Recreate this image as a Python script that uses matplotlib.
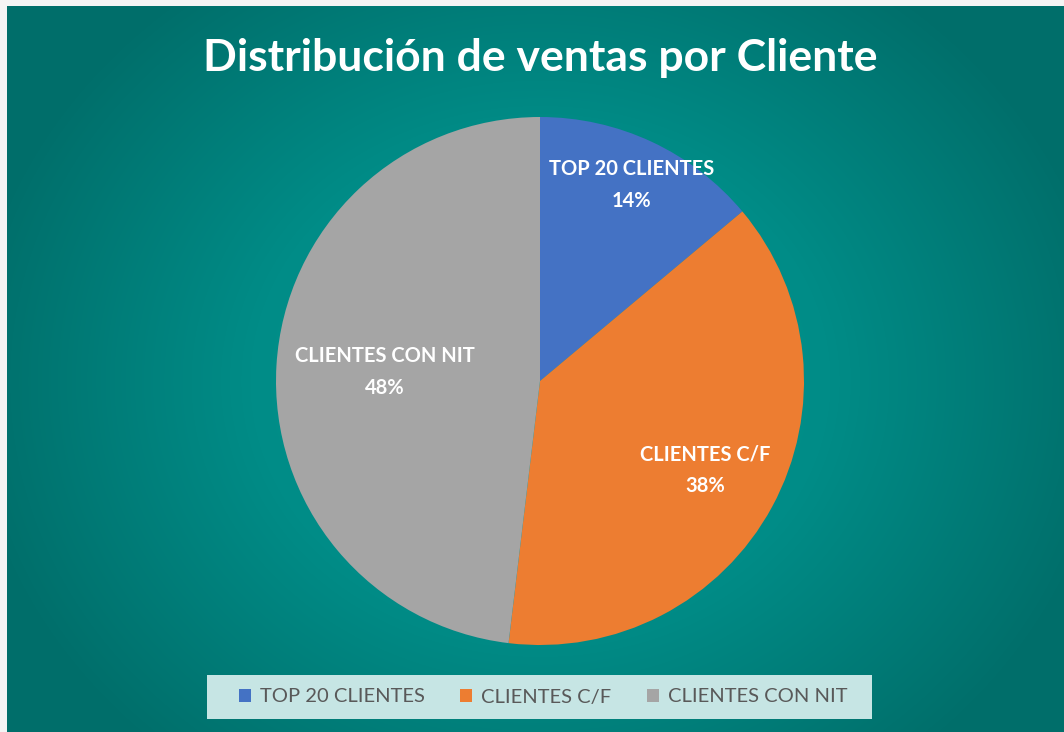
import matplotlib.pyplot as plt
import numpy as np
from matplotlib.colors import LinearSegmentedColormap
from matplotlib.patches import Patch, Rectangle

# data
categories = ["TOP 20 CLIENTES", "CLIENTES C/F", "CLIENTES CON NIT"]
shares = [13.9, 38.0, 48.1]
colors = ["#4472C4", "#ED7D31", "#A5A5A5"]
title = "Distribución de ventas por Cliente"

plt.rcParams['font.family'] = ['Lato', 'DejaVu Sans']

W, H = 1064, 732
fig = plt.figure(figsize=(W / 100, H / 100), dpi=100)
fig.patch.set_facecolor("#F4F4F4")

# radial teal gradient background
bg = fig.add_axes([7 / W, 0, (W - 7) / W, (H - 6) / H])
bg.set_axis_off()
yy, xx = np.mgrid[0:H - 6, 0:W - 7]
cx, cy = 533, 375
r = np.sqrt(((xx - cx) / 580.0) ** 2 + ((yy - cy) / 500.0) ** 2)
r = np.clip(r, 0, 1)
cmap = LinearSegmentedColormap.from_list("teal", ["#009A94", "#008C87", "#006E6A"])
bg.imshow(r, cmap=cmap, vmin=0, vmax=1, aspect="auto", interpolation="bilinear")

# pie
cxp, cyp, rad = 540, 381, 264
ax = fig.add_axes([(cxp - rad) / W, (H - cyp - rad) / H, 2 * rad / W, 2 * rad / H])
wedges, _ = ax.pie(shares, colors=colors, startangle=90, counterclock=False,
                   radius=1, wedgeprops=dict(linewidth=0))
ax.set_xlim(-1, 1)
ax.set_ylim(-1, 1)
ax.set_aspect("equal")
ax.set_axis_off()

label_r = [0.82, 0.71, 0.59]
for w, cat, v, lr in zip(wedges, categories, shares, label_r):
    ang = np.deg2rad((w.theta1 + w.theta2) / 2)
    ax.text(lr * np.cos(ang), lr * np.sin(ang), f"{cat}\n{round(v):.0f}%",
            ha="center", va="center", color="white", fontsize=14.5,
            fontweight="bold", linespacing=1.75)

fig.text(540 / W, 1 - 58 / H, title, ha="center", va="center", color="white",
         fontsize=32, fontweight="bold")

# legend box
fig.patches.append(Rectangle((207 / W, 1 - 719 / H), 665 / W, 44 / H,
                             transform=fig.transFigure, facecolor="#C6E5E4",
                             edgecolor="none", zorder=2))
handles = [Patch(facecolor=c, edgecolor="none") for c in colors]
leg = fig.legend(handles, categories, loc="center", bbox_to_anchor=(543 / W, 1 - 697 / H),
                 ncol=3, frameon=False, fontsize=14.5, handlelength=0.6, handleheight=0.6,
                 handletextpad=0.45, columnspacing=1.75, labelcolor="#595959")
leg.set_zorder(3)

fig.savefig("out.png", dpi=100, facecolor=fig.get_facecolor())
